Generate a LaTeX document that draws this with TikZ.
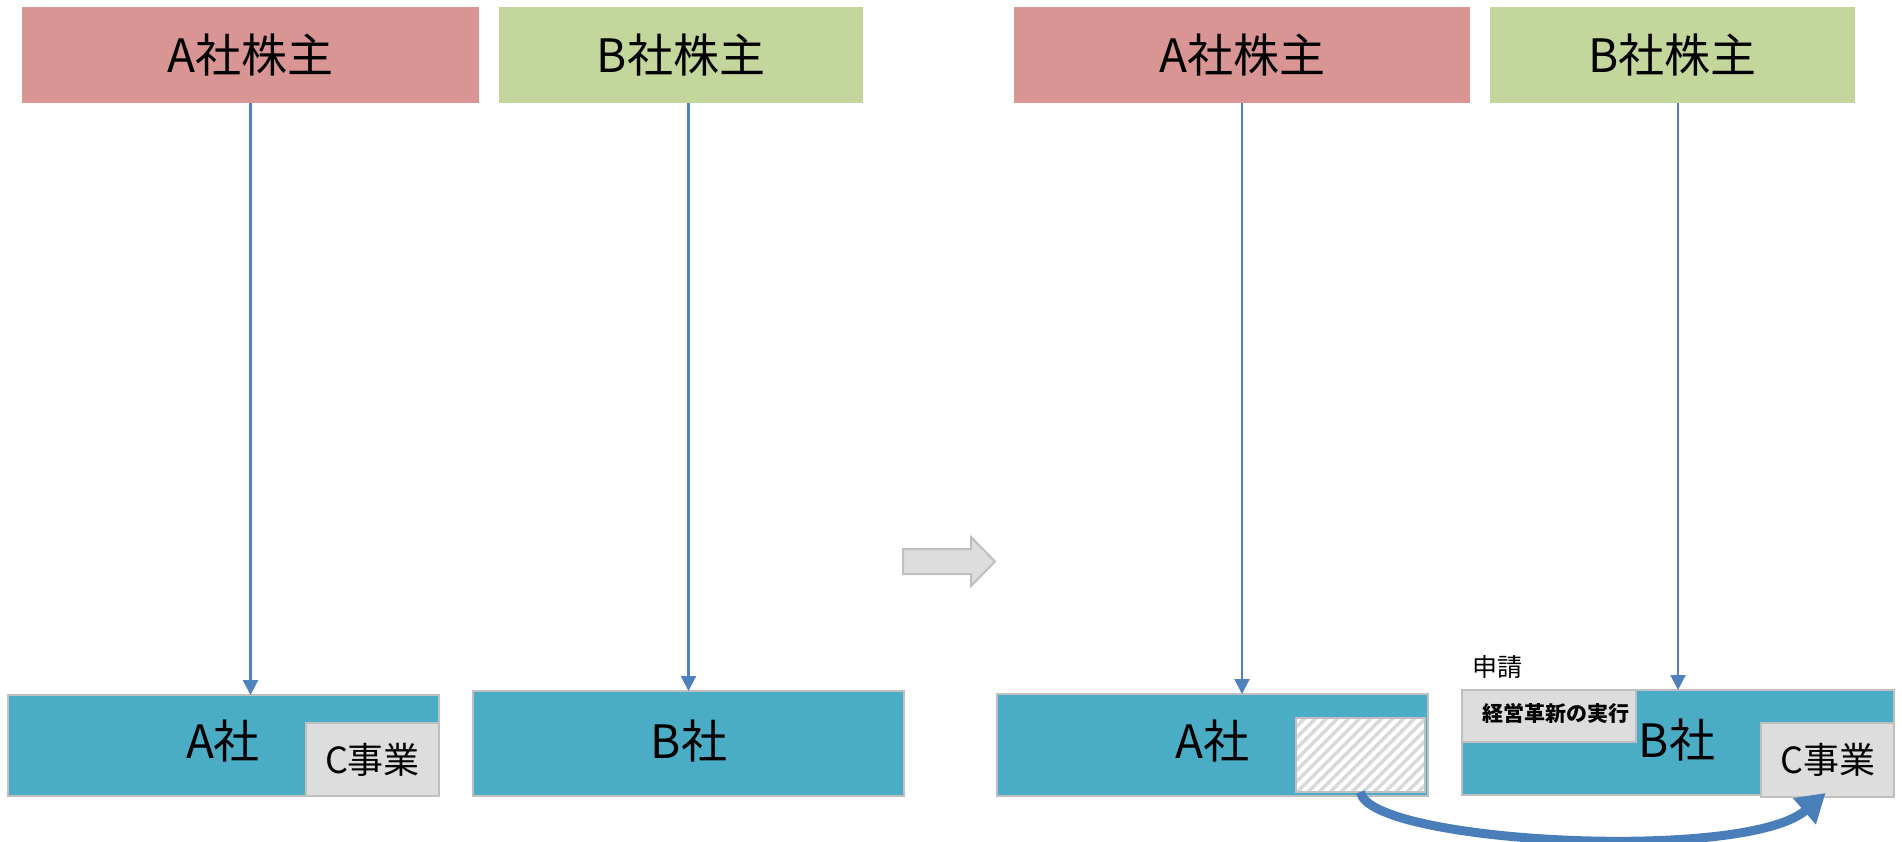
\documentclass[tikz,border=0pt]{standalone}
\usepackage{fontspec}
\setmainfont{Noto Sans CJK JP}
\usetikzlibrary{arrows.meta}
\definecolor{pinkc}{HTML}{D99594}
\definecolor{greenc}{HTML}{C3D69B}
\definecolor{tealc}{HTML}{4BACC6}
\definecolor{greyc}{HTML}{DDDDDD}
\definecolor{borderc}{HTML}{BFBFBF}
\definecolor{hatchc}{HTML}{D9D9D9}
\definecolor{arrowc}{HTML}{4F81BD}
\definecolor{bigarrowc}{HTML}{4A7EBB}
\tikzset{
  holder/.style={rectangle, inner sep=0pt, outer sep=0pt, minimum height=96pt, font=\fontsize{46}{52}\selectfont},
  company/.style={rectangle, inner sep=0pt, outer sep=0pt, fill=tealc, draw=borderc, line width=2pt, font=\fontsize{46}{52}\selectfont},
  greybox/.style={rectangle, inner sep=0pt, outer sep=0pt, fill=greyc, draw=borderc, line width=2pt},
  thinarrow/.style={draw=arrowc, line width=2.2pt, -{Triangle[width=15pt,length=15pt]}},
  bigarrow/.style={draw=bigarrowc, line width=9pt, -{Triangle[width=33pt,length=28pt]}},
}
\begin{document}
\begin{tikzpicture}[x=1pt,y=-1pt]
\useasboundingbox (0,0) rectangle (1902,842);
\fill[white] (0,0) rectangle (1902,842);
% shareholders
\node[holder, fill=pinkc, minimum width=457pt] (sa1) at (250.5,55) {A社株主};
\node[holder, fill=greenc, minimum width=364pt] (sb1) at (681,55) {B社株主};
\node[holder, fill=pinkc, minimum width=456pt] (sa2) at (1242,55) {A社株主};
\node[holder, fill=greenc, minimum width=365pt] (sb2) at (1672.5,55) {B社株主};
% left companies
\node[company, minimum width=431pt, minimum height=101pt] (ca1) at (223.5,745.5) {};
\node[font=\fontsize{46}{52}\selectfont] (ca1t) at (223,741) {A社};
\node[greybox, minimum width=133pt, minimum height=73pt, font=\fontsize{36}{42}\selectfont] (cc1) at (372.5,759.5) {C事業};
\node[company, minimum width=431pt, minimum height=105pt] (cb1) at (688.5,743.5) {};
\node[font=\fontsize{46}{52}\selectfont] (cb1t) at (689,741) {B社};
% right companies
\node[company, minimum width=431pt, minimum height=102pt] (ca2) at (1212.5,745) {};
\node[font=\fontsize{46}{52}\selectfont] (ca2t) at (1212,741) {A社};
\node[rectangle, inner sep=0pt, outer sep=0pt, fill=white, minimum width=129pt, minimum height=74pt] (hatch) at (1360.5,755) {};
\begin{scope}
  \clip (hatch.south west) rectangle (hatch.north east);
  \foreach \i in {0,...,20} {
    \draw[hatchc, line width=3.5pt] (1220+11*\i,792) -- (1294+11*\i,718);
  }
\end{scope}
\draw[borderc, line width=2pt] (hatch.south west) rectangle (hatch.north east);
\node[company, minimum width=432pt, minimum height=105pt] (cb2) at (1678,742.5) {};
\node[font=\fontsize{46}{52}\selectfont] (cb2t) at (1677,740) {B社};
\node[greybox, minimum width=174pt, minimum height=52pt] (keiei) at (1549,716) {};
\node[font=\fontsize{21}{24}\selectfont\bfseries] (keieit) at (1556,713) {経営革新の実行};
\node[greybox, minimum width=133pt, minimum height=74pt, font=\fontsize{36}{42}\selectfont] (cc2) at (1827.5,760) {C事業};
\node[font=\fontsize{25}{28}\selectfont] (shinsei) at (1497,667) {申請};
% thin arrows
\draw[thinarrow] (sa1.south) -- (sa1.south |- ca1.north);
\draw[thinarrow] (cb1.north |- sb1.south) -- (cb1.north);
\draw[thinarrow] (sa2.south) -- (sa2.south |- ca2.north);
\draw[thinarrow] (cb2.north |- sb2.south) -- (cb2.north);
% transition arrow
\draw[fill=greyc, draw=borderc, line width=2pt] (903,549) -- (971,549) -- (971,537) -- (995,561.5) -- (971,586) -- (971,574) -- (903,574) -- cycle;
% transfer arrow
\draw[bigarrow] (hatch.south) .. controls (1368,843) and (1745,863) .. ([xshift=-2pt,yshift=4pt]cc2.south);
\end{tikzpicture}
\end{document}
